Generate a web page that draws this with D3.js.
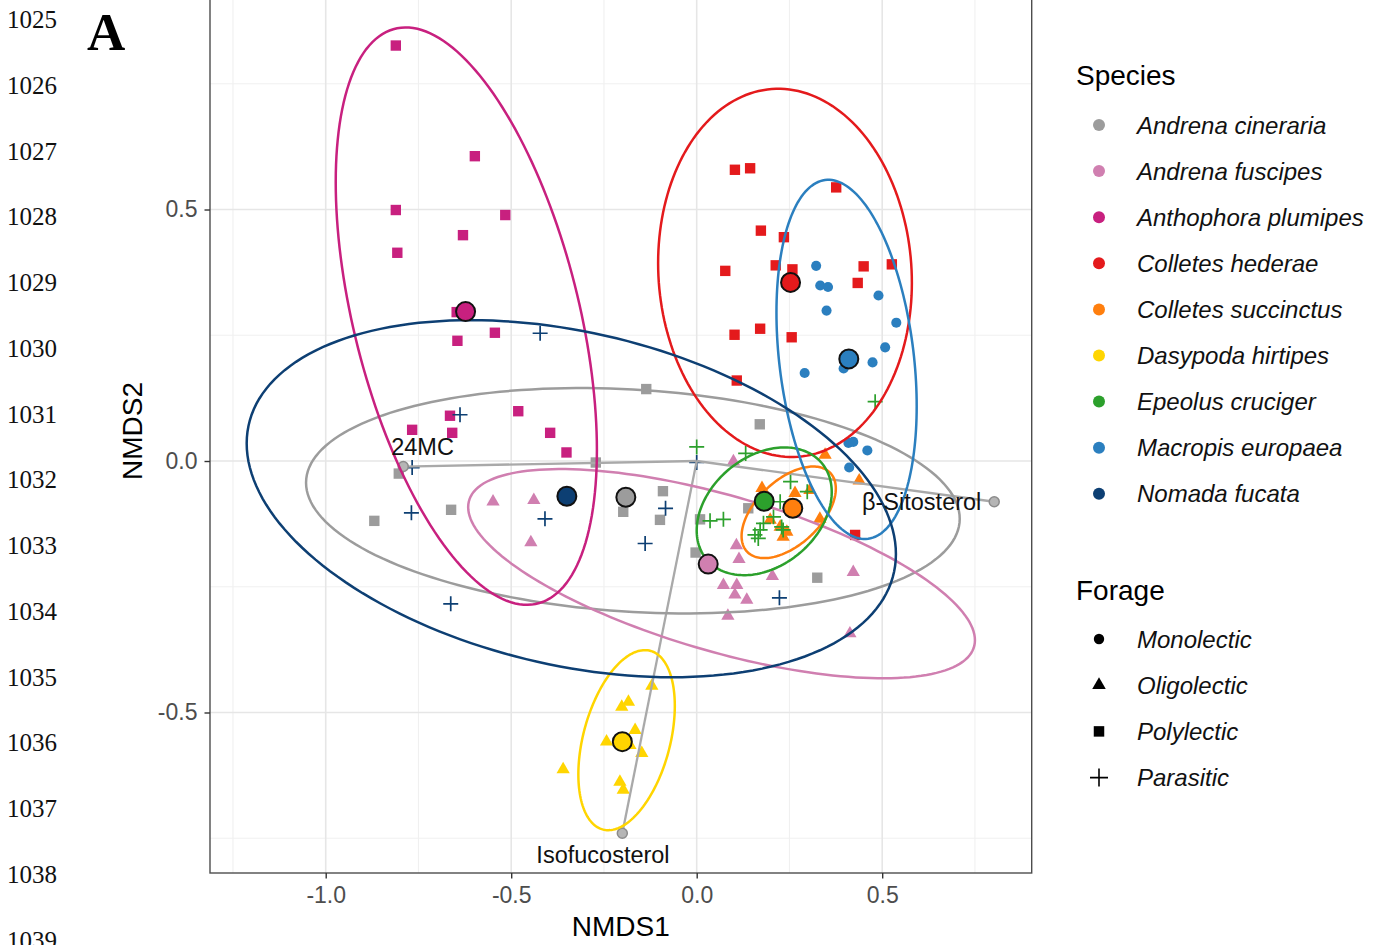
<!DOCTYPE html>
<html>
<head>
<meta charset="utf-8">
<script src="https://cdn.jsdelivr.net/npm/d3@7"></script>
<style>
  body { margin: 0; background: #fff; }
  svg { display: block; }
</style>
</head>
<body>
<svg id="chart" width="1381" height="945"></svg>
<script>
// species and their colour / forage type
const species = ["Andrena cineraria", "Andrena fuscipes", "Anthophora plumipes", "Colletes hederae",
    "Colletes succinctus", "Dasypoda hirtipes", "Epeolus cruciger", "Macropis europaea", "Nomada fucata"];
const speciesColors = ["#9c9c9c", "#d07fb0", "#c8207f", "#e41a1c", "#ff7f0e", "#ffd500", "#2ca02c", "#2b7fbf", "#0d3f73"];
const speciesForage = ["Polylectic", "Oligolectic", "Polylectic", "Polylectic", "Oligolectic",
    "Oligolectic", "Parasitic", "Monolectic", "Parasitic"];
const forageLevels = ["Monolectic", "Oligolectic", "Polylectic", "Parasitic"];

// NMDS scores per individual [NMDS1, NMDS2]
const cinerariaPts = [[-0.136,0.143],[0.170,0.073],[-0.272,-0.003],[-0.803,-0.025],[-0.869,-0.119],[-0.662,-0.097],
    [-0.198,-0.101],[-0.091,-0.060],[-0.099,-0.117],[0.009,-0.116],[0.139,-0.094],[-0.003,-0.182],[0.325,-0.232]];
const fuscipesPts = [[-0.549,-0.081],[-0.439,-0.078],[-0.447,-0.162],[0.099,-0.001],[0.107,-0.168],[0.114,-0.195],
    [0.072,-0.247],[0.108,-0.247],[0.103,-0.266],[0.135,-0.276],[0.204,-0.229],[0.422,-0.221],[0.084,-0.308],[0.413,-0.343]];
const plumipesPts = [[-0.811,0.826],[-0.598,0.606],[-0.811,0.499],[-0.516,0.489],[-0.630,0.449],[-0.807,0.414],
    [-0.647,0.296],[-0.645,0.239],[-0.544,0.255],[-0.665,0.090],[-0.767,0.062],[-0.659,0.056],[-0.481,0.099],
    [-0.395,0.056],[-0.351,0.017]];
const hederaePts = [[0.103,0.579],[0.144,0.582],[0.376,0.544],[0.173,0.458],[0.235,0.445],[0.077,0.378],[0.213,0.389],
    [0.258,0.381],[0.450,0.387],[0.526,0.391],[0.434,0.354],[0.102,0.251],[0.171,0.263],[0.256,0.246],[0.108,0.160],[0.427,-0.147]];
const succinctusPts = [[0.346,0.012],[0.438,-0.039],[0.332,-0.115],[0.265,-0.064],[0.176,-0.054],[0.198,-0.117],
    [0.225,-0.131],[0.243,-0.141],[0.233,-0.151],[0.252,-0.088],[0.305,-0.058]];
const hirtipesPts = [[-0.121,-0.447],[-0.184,-0.479],[-0.202,-0.489],[-0.166,-0.535],[-0.243,-0.558],[-0.148,-0.581],
    [-0.207,-0.638],[-0.198,-0.654],[-0.360,-0.613],[-0.180,-0.565]];
const cruciferPts = [[0.000,0.028],[0.132,0.015],[0.481,0.118],[0.253,-0.041],[0.298,-0.061],[0.036,-0.119],[0.072,-0.116],
    [0.225,-0.081],[0.207,-0.111],[0.180,-0.124],[0.229,-0.131],[0.171,-0.137],[0.157,-0.147],[0.166,-0.154],[0.233,-0.137]];
const europaeaPts = [[0.322,0.388],[0.333,0.349],[0.354,0.346],[0.490,0.329],[0.350,0.299],[0.538,0.275],[0.508,0.226],
    [0.474,0.196],[0.396,0.184],[0.291,0.175],[0.409,0.036],[0.422,0.038],[0.460,0.021],[0.411,-0.013]];
const fucataPts = [[-0.422,0.254],[-0.638,0.092],[-0.767,-0.013],[-0.769,-0.103],[-0.409,-0.115],[-0.663,-0.284],
    [0.000,-0.003],[-0.084,-0.094],[-0.139,-0.164],[0.223,-0.272]];
const speciesPts = [cinerariaPts, fuscipesPts, plumipesPts, hederaePts, succinctusPts, hirtipesPts, cruciferPts, europaeaPts, fucataPts];

// species centroids
const centroids = [[-0.191,-0.072],[0.031,-0.205],[-0.623,0.297],[0.253,0.355],[0.259,-0.094],
    [-0.2005,-0.558],[0.182,-0.080],[0.410,0.203],[-0.350,-0.070]];

// ellipses: centre x, centre y, half x-range, half y-range, correlation
const ellipses = [[-0.172,-0.079,0.881,0.224,-0.16],[0.067,-0.224,0.683,0.208,-0.636],[-0.621,0.288,0.352,0.574,-0.464],
    [0.238,0.374,0.342,0.366,-0.053],[0.248,-0.102,0.127,0.091,0.52],[-0.189,-0.555,0.130,0.179,0.38],
    [0.182,-0.100,0.182,0.127,0.30],[0.404,0.202,0.189,0.357,-0.26],[-0.338,-0.075,0.875,0.355,-0.31]];

// sterol vectors
const sterolNames = ["24MC", "β-Sitosterol", "Isofucosterol"];
const sterolEnds = [[-0.791,-0.011],[0.802,-0.081],[-0.2005,-0.740]];
const sterolLabelPos = [[-0.739,0.028],[0.6065,-0.0815],[-0.2526,-0.7833]];

const xTicks = [-1.0, -0.5, 0.0, 0.5];
const xMinor = [-1.25, -0.75, -0.25, 0.25, 0.75];
const yTicks = [-0.5, 0.0, 0.5];
const yMinor = [-0.75, -0.25, 0.25, 0.75];
const lineNumbers = d3.range(1025, 1040);

const font = "'Liberation Sans', Arial, sans-serif";
const svg = d3.select("#chart");

const panel = { left: 210, right: 1031.7, top: -20, bottom: 873 };
const x = d3.scaleLinear().domain([-1.3119, 0.9030]).range([panel.left, panel.right]);
const y = d3.scaleLinear().domain([-0.8191, 0.9563]).range([panel.bottom, panel.top]);

// manuscript line numbers
svg.append("g").selectAll("text")
    .data(lineNumbers)
    .join("text")
    .attr("x", 7)
    .attr("y", (d, i) => 28 + i * 65.77)
    .style("font-family", "'Liberation Serif', 'Times New Roman', serif")
    .style("font-size", "25px")
    .attr("fill", "#111")
    .text(d => d);

svg.append("text")
    .attr("x", 87)
    .attr("y", 50)
    .style("font-family", "'Liberation Serif', 'Times New Roman', serif")
    .style("font-size", "53px")
    .style("font-weight", "bold")
    .text("A");

// grid
const grid = svg.append("g");
grid.selectAll(".xminor").data(xMinor).join("line")
    .attr("x1", d => x(d)).attr("x2", d => x(d))
    .attr("y1", panel.top).attr("y2", panel.bottom)
    .attr("stroke", "#f0f0f0").attr("stroke-width", 1.1);
grid.selectAll(".yminor").data(yMinor).join("line")
    .attr("y1", d => y(d)).attr("y2", d => y(d))
    .attr("x1", panel.left).attr("x2", panel.right)
    .attr("stroke", "#f0f0f0").attr("stroke-width", 1.1);
grid.selectAll(".xmajor").data(xTicks).join("line")
    .attr("x1", d => x(d)).attr("x2", d => x(d))
    .attr("y1", panel.top).attr("y2", panel.bottom)
    .attr("stroke", "#e6e6e6").attr("stroke-width", 1.6);
grid.selectAll(".ymajor").data(yTicks).join("line")
    .attr("y1", d => y(d)).attr("y2", d => y(d))
    .attr("x1", panel.left).attr("x2", panel.right)
    .attr("stroke", "#e6e6e6").attr("stroke-width", 1.6);

// points
const plus = "M-7.5,0H7.5M0,-7.5V7.5";
function symbolPath(forage) {
    if (forage === "Parasitic") return plus;
    if (forage === "Polylectic") return d3.symbol(d3.symbolSquare, 108)();
    if (forage === "Oligolectic") return d3.symbol(d3.symbolTriangle, 76)();
    return d3.symbol(d3.symbolCircle, 80)();
}

const pts = svg.append("g");
species.forEach((sp, i) => {
    const parasitic = speciesForage[i] === "Parasitic";
    pts.append("g").selectAll("path")
        .data(speciesPts[i])
        .join("path")
        .attr("transform", d => `translate(${x(d[0])},${y(d[1])})`)
        .attr("d", symbolPath(speciesForage[i]))
        .attr("fill", parasitic ? "none" : speciesColors[i])
        .attr("stroke", parasitic ? speciesColors[i] : "none")
        .attr("stroke-width", 1.7);
});

// sterol vectors
const vec = svg.append("g");
vec.selectAll("line").data(sterolEnds).join("line")
    .attr("x1", x(0)).attr("y1", y(0))
    .attr("x2", d => x(d[0])).attr("y2", d => y(d[1]))
    .attr("stroke", "#a9a9a9").attr("stroke-width", 2.3);
vec.selectAll("circle").data(sterolEnds).join("circle")
    .attr("cx", d => x(d[0])).attr("cy", d => y(d[1]))
    .attr("r", 5)
    .attr("fill", "#b5b5b5").attr("stroke", "#8c8c8c").attr("stroke-width", 1.5);

// ellipses
const ellLine = d3.line().curve(d3.curveLinearClosed);
svg.append("g").selectAll("path")
    .data(ellipses)
    .join("path")
    .attr("d", e => {
        const phi = Math.acos(e[4]);
        return ellLine(d3.range(0, 2 * Math.PI, Math.PI / 90).map(t =>
            [x(e[0] + e[2] * Math.cos(t)), y(e[1] + e[3] * Math.cos(t - phi))]));
    })
    .attr("fill", "none")
    .attr("stroke", (d, i) => speciesColors[i])
    .attr("stroke-width", 2.5);

// centroids
svg.append("g").selectAll("circle")
    .data(centroids)
    .join("circle")
    .attr("cx", d => x(d[0])).attr("cy", d => y(d[1]))
    .attr("r", 9.5)
    .attr("fill", (d, i) => speciesColors[i])
    .attr("stroke", "#111").attr("stroke-width", 2);

// sterol labels
svg.append("g").selectAll("text")
    .data(sterolNames)
    .join("text")
    .attr("x", (d, i) => x(sterolLabelPos[i][0]))
    .attr("y", (d, i) => y(sterolLabelPos[i][1]))
    .attr("text-anchor", "middle")
    .attr("dominant-baseline", "central")
    .style("font-family", font)
    .style("font-size", "23.5px")
    .attr("fill", "#111")
    .text(d => d);

// panel border
svg.append("rect")
    .attr("x", panel.left).attr("y", panel.top)
    .attr("width", panel.right - panel.left).attr("height", panel.bottom - panel.top)
    .attr("fill", "none").attr("stroke", "#4d4d4d").attr("stroke-width", 1.4);

// axes
const fmt = d => d3.format(".1f")(d).replace("−", "-");
const xAxis = svg.append("g")
    .attr("transform", `translate(0,${panel.bottom})`)
    .call(d3.axisBottom(x).tickValues(xTicks).tickFormat(fmt).tickSize(5.5).tickPadding(8));
const yAxis = svg.append("g")
    .attr("transform", `translate(${panel.left},0)`)
    .call(d3.axisLeft(y).tickValues(yTicks).tickFormat(fmt).tickSize(5.5).tickPadding(7));
[xAxis, yAxis].forEach(ax => {
    ax.select(".domain").remove();
    ax.selectAll(".tick line").attr("stroke", "#333").attr("stroke-width", 1.4);
    ax.selectAll(".tick text")
        .attr("fill", "#4d4d4d")
        .style("font-family", font)
        .style("font-size", "23px");
});

svg.append("text")
    .attr("x", (panel.left + panel.right) / 2)
    .attr("y", 936)
    .attr("text-anchor", "middle")
    .style("font-family", font)
    .style("font-size", "28px")
    .text("NMDS1");

svg.append("text")
    .attr("transform", `translate(142,431) rotate(-90)`)
    .attr("text-anchor", "middle")
    .style("font-family", font)
    .style("font-size", "28px")
    .text("NMDS2");

// legends
const leg = svg.append("g").style("font-family", font);
leg.append("text").attr("x", 1076).attr("y", 85).style("font-size", "28px").text("Species");
const spItems = leg.append("g").selectAll("g")
    .data(species)
    .join("g")
    .attr("transform", (d, i) => `translate(0,${125 + i * 46.1})`);
spItems.append("circle").attr("cx", 1099).attr("r", 6).attr("fill", (d, i) => speciesColors[i]);
spItems.append("text")
    .attr("x", 1137).attr("dominant-baseline", "central")
    .style("font-size", "24px").style("font-style", "italic")
    .attr("fill", "#111")
    .text(d => d);

leg.append("text").attr("x", 1076).attr("y", 600).style("font-size", "28px").text("Forage");
const fItems = leg.append("g").selectAll("g")
    .data(forageLevels)
    .join("g")
    .attr("transform", (d, i) => `translate(1099,${639 + i * 46.2})`);
fItems.append("path")
    .attr("d", d => d === "Parasitic" ? "M-9,0H9M0,-9V9" : d === "Polylectic" ? d3.symbol(d3.symbolSquare, 110)()
        : d === "Oligolectic" ? d3.symbol(d3.symbolTriangle, 80)() : d3.symbol(d3.symbolCircle, 85)())
    .attr("fill", d => d === "Parasitic" ? "none" : "#000")
    .attr("stroke", d => d === "Parasitic" ? "#000" : "none")
    .attr("stroke-width", 1.6);
fItems.append("text")
    .attr("x", 38).attr("dominant-baseline", "central")
    .style("font-size", "24px").style("font-style", "italic")
    .attr("fill", "#111")
    .text(d => d);
</script>
</body>
</html>
